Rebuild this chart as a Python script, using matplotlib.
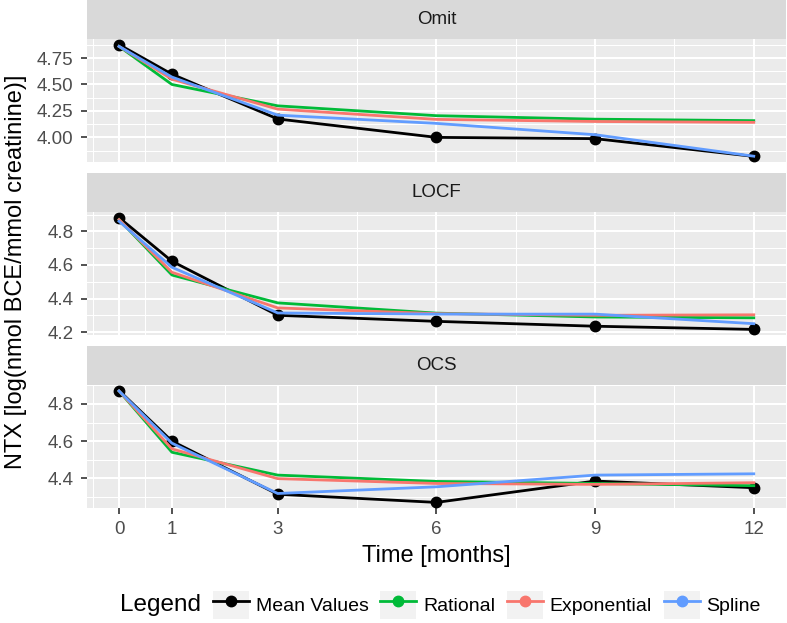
import matplotlib
matplotlib.use("Agg")
import matplotlib.pyplot as plt
from matplotlib.lines import Line2D
from matplotlib.patches import Rectangle
from matplotlib.legend_handler import HandlerTuple
import numpy as np

plt.rcParams['font.family'] = ['Liberation Sans', 'DejaVu Sans']

months = [0, 1, 3, 6, 9, 12]
panels = ["Omit", "LOCF", "OCS"]
series_names = ["Mean Values", "Rational", "Exponential", "Spline"]
series_colors = ["#000000", "#00BA38", "#F8766D", "#619CFF"]

omit_mean = [4.877, 4.597, 4.174, 4.00, 3.988, 3.82]
omit_rational = [4.86, 4.50, 4.298, 4.205, 4.172, 4.158]
omit_exponential = [4.86, 4.55, 4.267, 4.17, 4.15, 4.142]
omit_spline = [4.86, 4.57, 4.21, 4.132, 4.025, 3.822]

locf_mean = [4.882, 4.622, 4.300, 4.264, 4.235, 4.216]
locf_rational = [4.87, 4.54, 4.374, 4.313, 4.290, 4.285]
locf_exponential = [4.87, 4.556, 4.344, 4.310, 4.300, 4.303]
locf_spline = [4.86, 4.586, 4.314, 4.307, 4.307, 4.250]

ocs_mean = [4.872, 4.600, 4.314, 4.270, 4.385, 4.349]
ocs_rational = [4.87, 4.540, 4.417, 4.383, 4.372, 4.360]
ocs_exponential = [4.87, 4.558, 4.398, 4.372, 4.367, 4.376]
ocs_spline = [4.87, 4.589, 4.318, 4.354, 4.417, 4.424]

panel_data = {
    "Omit": [omit_mean, omit_rational, omit_exponential, omit_spline],
    "LOCF": [locf_mean, locf_rational, locf_exponential, locf_spline],
    "OCS": [ocs_mean, ocs_rational, ocs_exponential, ocs_spline],
}
panel_yticks = {
    "Omit": [4.00, 4.25, 4.50, 4.75],
    "LOCF": [4.2, 4.4, 4.6, 4.8],
    "OCS": [4.2, 4.4, 4.6, 4.8],
}
panel_fmt = {"Omit": "{:.2f}", "LOCF": "{:.1f}", "OCS": "{:.1f}"}

W, H = 787, 623
fig = plt.figure(figsize=(W / 100, H / 100), dpi=100)

left_px, right_px = 87.3, 785.5
strip_h, panel_h, gap = 39.0, 123.0, 11.0

PANEL_BG = "#EBEBEB"
STRIP_BG = "#D9D9D9"
TICK_COLOR = "#4D4D4D"

xlo, xhi = min(months), max(months)
xexp = (xhi - xlo) * 0.05
xlim = (xlo - xexp, xhi + xexp)
x_minor = [-0.5, 0.5, 2, 4.5, 7.5, 10.5]

for i, name in enumerate(panels):
    top = i * (strip_h + panel_h + gap)
    # strip
    sax = fig.add_axes([left_px / W, 1 - (top + strip_h) / H,
                        (right_px - left_px) / W, strip_h / H])
    sax.set_facecolor(STRIP_BG)
    sax.set_xticks([]); sax.set_yticks([])
    for sp in sax.spines.values():
        sp.set_visible(False)
    sax.text(0.5, 0.5, name, ha='center', va='center', fontsize=13.5,
             color='#1A1A1A', transform=sax.transAxes)

    ax = fig.add_axes([left_px / W, 1 - (top + strip_h + panel_h) / H,
                       (right_px - left_px) / W, panel_h / H])
    ax.set_facecolor(PANEL_BG)
    for sp in ax.spines.values():
        sp.set_visible(False)

    data = panel_data[name]
    allv = np.concatenate([np.asarray(d) for d in data])
    ylo, yhi = allv.min(), allv.max()
    yexp = (yhi - ylo) * 0.05
    ylim = (ylo - yexp, yhi + yexp)

    yt = [t for t in panel_yticks[name] if ylim[0] <= t <= ylim[1]]
    step = panel_yticks[name][1] - panel_yticks[name][0]
    ext = [panel_yticks[name][0] - step] + panel_yticks[name] + [panel_yticks[name][-1] + step]
    y_minor = [(a + b) / 2 for a, b in zip(ext[:-1], ext[1:])]
    y_minor = [m for m in y_minor if ylim[0] <= m <= ylim[1]]

    for m in x_minor:
        ax.axvline(m, color='white', lw=0.75, zorder=0.5)
    for m in y_minor:
        ax.axhline(m, color='white', lw=0.75, zorder=0.5)
    for t in months:
        ax.axvline(t, color='white', lw=1.5, zorder=0.6)
    for t in yt:
        ax.axhline(t, color='white', lw=1.5, zorder=0.6)

    for k, (vals, col) in enumerate(zip(data, series_colors)):
        if k == 0:
            ax.plot(months, vals, color=col, lw=2.0, marker='o', ms=7.5,
                    zorder=2)
        else:
            ax.plot(months, vals, color=col, lw=2.0, zorder=2 + k * 0.1)

    ax.set_xlim(*xlim)
    ax.set_ylim(*ylim)
    ax.set_yticks(yt)
    ax.set_yticklabels([panel_fmt[name].format(t) for t in yt])
    ax.tick_params(axis='y', length=4, width=1.2, color='#333333',
                   labelcolor=TICK_COLOR, labelsize=13.5, pad=6)
    ax.set_xticks(months)
    if i == len(panels) - 1:
        ax.set_xticklabels([str(m) for m in months])
        ax.tick_params(axis='x', length=4, width=1.2, color='#333333',
                       labelcolor=TICK_COLOR, labelsize=13.5, pad=5)
    else:
        ax.tick_params(axis='x', length=0, labelbottom=False)

# axis titles
fig.text(436 / W, 1 - 556 / H, "Time [months]", ha='center', va='center',
         fontsize=17, color='black')
fig.text(16 / W, 1 - 272 / H, "NTX [log(nmol BCE/mmol creatinine)]",
         ha='center', va='center', rotation=90, fontsize=17, color='black')

# legend
handles = []
for k, (nm, col) in enumerate(zip(series_names, series_colors)):
    bg = Rectangle((0, 0), 1, 1, facecolor='#F2F2F2', edgecolor='none')
    ln = Line2D([0], [0], color=col, lw=2.0, marker='o', ms=7.5)
    handles.append((bg, ln))
fig.text(120 / W, 1 - 605 / H, "Legend", ha='left', va='center', fontsize=17.5)
fs = 14
fpx = fs * 100 / 72
leg = fig.legend(handles, series_names, handler_map={tuple: HandlerTuple(ndivide=1)},
                 loc='center left', bbox_to_anchor=(213 / W, 1 - 605 / H),
                 ncol=4, frameon=False, fontsize=fs, numpoints=1,
                 handlelength=36 / fpx, handleheight=36 / fpx,
                 handletextpad=0.35, columnspacing=0.6, borderpad=0,
                 borderaxespad=0)

fig.savefig("out.png", dpi=100)
